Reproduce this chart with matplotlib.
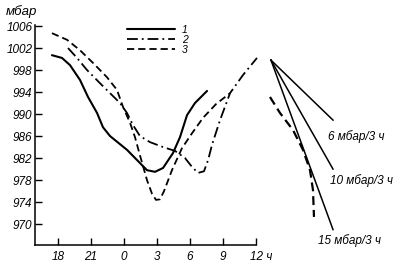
import matplotlib
matplotlib.use('Agg')
import matplotlib.pyplot as plt
from matplotlib.transforms import ScaledTranslation

plt.rcParams['font.family'] = ['Liberation Sans', 'DejaVu Sans']
plt.rcParams['font.style'] = 'italic'

# hours on a continuous scale: 18, 21, 24(=0), 27(=3), ... 36(=12)
t1 = [17.45, 18.36, 19.09, 20.0, 20.73, 21.55, 22.09, 22.73, 24.27, 25.45,
      26.09, 26.82, 27.55, 28.45, 29.09, 29.73, 30.45, 31.55]
p1 = [1000.7, 1000.2, 998.9, 996.2, 993.1, 990.2, 987.6, 986.0, 983.5, 981.1,
      979.8, 979.5, 980.2, 982.9, 985.8, 989.8, 992.0, 994.2]

t2 = [18.91, 19.73, 20.64, 21.82, 22.73, 23.64, 24.27, 24.82, 25.45, 26.36,
      27.55, 28.64, 29.55, 30.18, 30.73, 31.27, 31.64, 32.0, 32.73, 33.64,
      34.82, 36.09]
p2 = [1002.0, 1000.2, 998.0, 995.6, 993.8, 992.0, 990.2, 988.0, 986.0, 984.9,
      984.0, 983.3, 982.0, 980.4, 979.3, 979.6, 981.6, 984.4, 988.9, 993.8,
      997.1, 1000.2]

t3 = [17.45, 18.82, 20.0, 21.18, 22.45, 23.36, 23.91, 24.55, 25.0, 25.45,
      26.09, 26.55, 26.91, 27.27, 27.64, 28.36, 29.27, 30.18, 31.18, 32.36,
      33.64]
p3 = [1004.7, 1003.5, 1001.6, 999.3, 996.7, 994.4, 991.3, 988.4, 985.8, 982.5,
      978.0, 975.5, 974.4, 974.5, 976.0, 979.8, 983.8, 986.5, 989.3, 991.8,
      993.8]

# curve 3 fall segment copied next to the tendency fan
t3f = [37.27, 38.18, 39.36, 40.27, 40.91, 41.18, 41.27]
p3f = [993.1, 990.2, 987.1, 983.5, 979.8, 976.2, 971.3]

# tendency fan
fan_t0, fan_p0 = 37.36, 999.8
fan_t1 = [43.0, 43.0, 43.0]
fan_p1 = [988.9, 980.0, 969.0]
fan_labels = ['6 мбар/3 ч', '10 мбар/3 ч', '15 мбар/3 ч']
fan_label_t = [42.55, 42.73, 41.64]
fan_label_p = [986.0, 978.0, 967.1]

xticks = [18, 21, 24, 27, 30, 33, 36]
xlabels = ['18', '21', '0', '3', '6', '9', '12 ч']
yticks = [970, 974, 978, 982, 986, 990, 994, 998, 1002, 1006]
legend_labels = ['1', '2', '3']

fig = plt.figure(figsize=(4, 2.71), dpi=100)
ax = fig.add_axes([35/400, 1-245/271, 365/400, 245/271])
ax.set_xlim(15.91, 49.09)
ax.set_ylim(966.2, 1010.73)

l1, = ax.plot(t1, p1, color='black', lw=1.5, solid_capstyle='round')
l2, = ax.plot(t2, p2, color='black', lw=1.3, linestyle=(0, (6, 2.2, 1, 2.2)))
l3, = ax.plot(t3, p3, color='black', lw=1.3, linestyle=(0, (4, 2.2)))
ax.plot(t3f, p3f, color='black', lw=1.6, linestyle=(0, (4, 2.2)), clip_on=False)

for te, pe, lab, lt, lp in zip(fan_t1, fan_p1, fan_labels, fan_label_t, fan_label_p):
    ax.plot([fan_t0, te], [fan_p0, pe], color='black', lw=1.1, clip_on=False)
    ax.text(lt, lp, lab, ha='left', va='center', fontsize=8.5)

for s in ['top', 'right']:
    ax.spines[s].set_visible(False)
ax.spines['bottom'].set_bounds(15.91, 36)
ax.spines['left'].set_bounds(966.2, 1006.2)
for s in ['bottom', 'left']:
    ax.spines[s].set_linewidth(1.1)

ax.set_xticks(xticks)
ax.set_xticklabels(xlabels)
ax.set_yticks(yticks)
ax.set_yticklabels([str(v) for v in yticks])
ax.tick_params(axis='both', direction='in', length=5, width=1, labelsize=8.5)
ax.tick_params(axis='x', pad=4)
ax.tick_params(axis='y', pad=2)

last = ax.get_xticklabels()[-1]
last.set_horizontalalignment('left')
last.set_transform(last.get_transform() + ScaledTranslation(-6/100, 0, fig.dpi_scale_trans))

leg = ax.legend([l1, l2, l3], legend_labels, loc='upper left',
                bbox_to_anchor=((127-35)/365, 1-25/245), frameon=False,
                fontsize=7.5, handlelength=4.6, handletextpad=0.7,
                labelspacing=0.0, borderpad=0, borderaxespad=0)

fig.text(6/400, 1-12/271, 'мбар', ha='left', va='center', fontsize=9.5)

fig.savefig('out.png', dpi=100)
